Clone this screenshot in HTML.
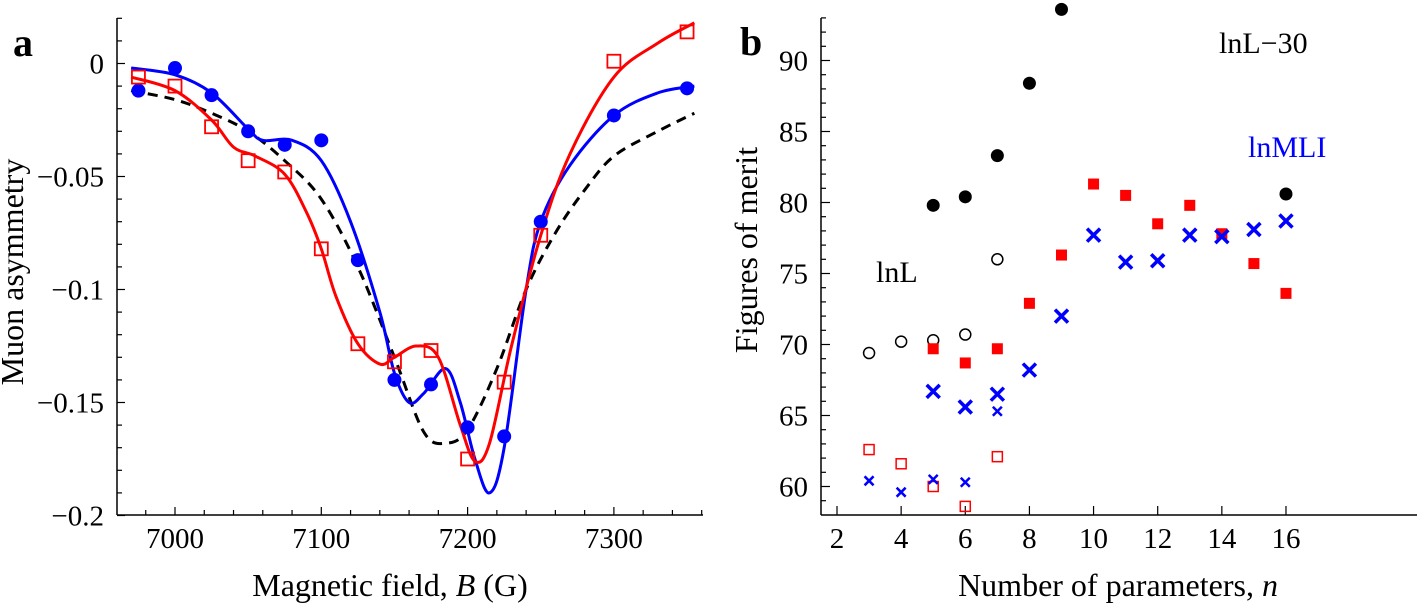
<!DOCTYPE html>
<html><head><meta charset="utf-8"><style>
html,body{margin:0;padding:0;background:#fff}
svg text{font-family:"Liberation Serif","Times New Roman","DejaVu Serif",serif;fill:#000}
</style></head><body>
<svg id="fig" width="1419" height="603" viewBox="0 0 1419 603" xmlns="http://www.w3.org/2000/svg" font-family="Liberation Serif, serif">
<g id="pa"></g>
<g id="pb"></g>
</svg>
<script>
// Panel a data
const aBlueX=[6975,7000,7025,7050,7075,7100,7125,7150,7175,7200,7225,7250,7300,7350];
const aBlueY=[-0.012,-0.002,-0.014,-0.030,-0.036,-0.034,-0.087,-0.140,-0.142,-0.161,-0.165,-0.070,-0.023,-0.011];
const aRedX=[6975,7000,7025,7050,7075,7100,7125,7150,7175,7200,7225,7250,7300,7350];
const aRedY=[-0.006,-0.010,-0.028,-0.043,-0.048,-0.082,-0.124,-0.132,-0.127,-0.175,-0.141,-0.076,0.001,0.014];
const blueCurveX=[6970,7000,7025,7050,7060,7080,7100,7120,7140,7150,7160,7170,7185,7195,7205,7215,7225,7240,7250,7270,7300,7330,7355];
const blueCurveY=[-0.002,-0.005,-0.013,-0.029,-0.034,-0.034,-0.043,-0.070,-0.110,-0.137,-0.150,-0.146,-0.135,-0.150,-0.175,-0.190,-0.170,-0.100,-0.070,-0.045,-0.023,-0.013,-0.010];
const redCurveX=[6970,7000,7025,7040,7055,7075,7090,7100,7110,7125,7140,7150,7165,7180,7195,7205,7215,7230,7250,7270,7300,7330,7355];
const redCurveY=[-0.006,-0.012,-0.025,-0.037,-0.041,-0.049,-0.066,-0.082,-0.103,-0.124,-0.133,-0.130,-0.125,-0.130,-0.160,-0.176,-0.168,-0.125,-0.076,-0.040,-0.006,0.009,0.018];
const dashCurveX=[6970,7000,7025,7050,7075,7100,7125,7150,7170,7185,7200,7220,7240,7260,7280,7300,7330,7355];
const dashCurveY=[-0.012,-0.016,-0.022,-0.030,-0.043,-0.060,-0.090,-0.130,-0.163,-0.168,-0.162,-0.135,-0.100,-0.075,-0.056,-0.041,-0.030,-0.022];
const aXTicks=[7000,7100,7200,7300];
const aYTicks=[0,-0.05,-0.1,-0.15,-0.2];
const aYLabels=["0","\u22120.05","\u22120.1","\u22120.15","\u22120.2"];
// Panel b data
const bX=[2,4,6,8,10,12,14,16];
const bYTicks=[60,65,70,75,80,85,90];
const blackFillN=[5,6,7,8,9,16];
const blackFillV=[79.8,80.4,83.3,88.4,93.6,80.6];
const blackOpenN=[3,4,5,6,7];
const blackOpenV=[69.4,70.2,70.3,70.7,76.0];
const redFillN=[5,6,7,8,9,10,11,12,13,14,15,16];
const redFillV=[69.7,68.7,69.7,72.9,76.3,81.3,80.5,78.5,79.8,77.8,75.7,73.6];
const redOpenN=[3,4,5,6,7];
const redOpenV=[62.6,61.6,60.0,58.6,62.1];
const blueBigN=[5,6,7,8,9,10,11,12,13,14,15,16];
const blueBigV=[66.7,65.6,66.5,68.2,72.0,77.7,75.8,75.9,77.7,77.6,78.1,78.7];
const blueSmallN=[3,4,5,6,7];
const blueSmallV=[60.4,59.6,60.5,60.3,65.3];

const NS="http://www.w3.org/2000/svg";
const FF='"Liberation Serif","Times New Roman","DejaVu Serif",serif';
function mk(p,tag,at){const e=document.createElementNS(NS,tag);for(const k in at)e.setAttribute(k,at[k]);if(tag==='text')e.style.fontFamily=FF;p.appendChild(e);return e;}
function smooth(pts){let d="M"+pts[0][0]+","+pts[0][1];for(let i=0;i<pts.length-1;i++){const p0=pts[Math.max(0,i-1)],p1=pts[i],p2=pts[i+1],p3=pts[Math.min(pts.length-1,i+2)];
const c1=[p1[0]+(p2[0]-p0[0])/6,p1[1]+(p2[1]-p0[1])/6],c2=[p2[0]-(p3[0]-p1[0])/6,p2[1]-(p3[1]-p1[1])/6];
d+=" C"+c1+" "+c2+" "+p2;}return d;}

// ---- Panel A ----
const pa=document.getElementById('pa');
const ax=v=>175+(v-7000)*1.463, ay=v=>63.5-v*2260;
const L=117,R=703,T=18,B=515;
let e;
e=mk(pa,'line',{x1:L,y1:T,x2:L,y2:B,stroke:'#000','stroke-width':1.5});

e=mk(pa,'line',{x1:L,y1:B,x2:R,y2:B,stroke:'#000','stroke-width':1.5});

for(let v=6980;v<=7360;v+=20){const x=ax(v);const maj=v%100===0;mk(pa,'line',{x1:x,y1:B,x2:x,y2:B-(maj?8:5),stroke:'#000','stroke-width':1.2});}
for(let k=-20;k<=2;k++){const y=ay(k/100);const maj=k%5===0;mk(pa,'line',{x1:L,y1:y,x2:L+(maj?8:5),y2:y,stroke:'#000','stroke-width':1.2});}
aXTicks.forEach(v=>{e=mk(pa,'text',{x:ax(v),y:548,'font-size':29,'text-anchor':'middle'});e.textContent=v;
});
aYTicks.forEach((v,i)=>{e=mk(pa,'text',{x:104,y:ay(v)+10,'font-size':29,'text-anchor':'end'});e.textContent=aYLabels[i];
});
e=mk(pa,'text',{x:390,y:596,'font-size':32,'text-anchor':'middle'});e.innerHTML='Magnetic field, <tspan font-style="italic">B</tspan> (G)';

e=mk(pa,'text',{x:0,y:0,'font-size':32,'text-anchor':'middle',transform:'translate(23,272) rotate(-90)'});e.textContent='Muon asymmetry';

e=mk(pa,'text',{x:13,y:56,'font-size':40,'font-weight':'bold'});e.textContent='a';

const clip=mk(mk(pa,'defs',{}),'clipPath',{id:'ca'});mk(clip,'rect',{x:L,y:T-5,width:R-L,height:B-T+5});
e=mk(pa,'path',{d:smooth(dashCurveX.map((v,i)=>[ax(v),ay(dashCurveY[i])])),fill:'none',stroke:'#000','stroke-width':3,'stroke-dasharray':'10,7','clip-path':'url(#ca)'});

e=mk(pa,'path',{d:smooth(blueCurveX.map((v,i)=>[ax(v),ay(blueCurveY[i])])),fill:'none',stroke:'#0000ff','stroke-width':3,'clip-path':'url(#ca)'});

e=mk(pa,'path',{d:smooth(redCurveX.map((v,i)=>[ax(v),ay(redCurveY[i])])),fill:'none',stroke:'#ff0000','stroke-width':3,'clip-path':'url(#ca)'});

aBlueX.forEach((v,i)=>{e=mk(pa,'circle',{cx:ax(v),cy:ay(aBlueY[i]),r:7,fill:'#0000ff'});
});
aRedX.forEach((v,i)=>{e=mk(pa,'rect',{x:ax(v)-6.5,y:ay(aRedY[i])-6.5,width:13,height:13,fill:'none',stroke:'#ff0000','stroke-width':1.8});
});

// ---- Panel B ----
const pb=document.getElementById('pb');
const bx=n=>837+(n-2)*32.07, by=v=>486.5-(v-60)*14.2;
const L2=821,R2=1417;
e=mk(pb,'line',{x1:L2,y1:T,x2:L2,y2:B,stroke:'#000','stroke-width':1.5});

e=mk(pb,'line',{x1:L2,y1:B,x2:R2,y2:B,stroke:'#000','stroke-width':1.5});

bX.forEach(n=>{mk(pb,'line',{x1:bx(n),y1:B,x2:bx(n),y2:B-9,stroke:'#000','stroke-width':1.2});
e=mk(pb,'text',{x:bx(n),y:548,'font-size':29,'text-anchor':'middle'});e.textContent=n;
});
for(let v=59;v<=93;v++){const maj=v%5===0;mk(pb,'line',{x1:L2,y1:by(v),x2:L2+(maj?9:5),y2:by(v),stroke:'#000','stroke-width':1.2});}
bYTicks.forEach(v=>{e=mk(pb,'text',{x:808,y:by(v)+10,'font-size':29,'text-anchor':'end'});e.textContent=v;
});
e=mk(pb,'text',{x:1118,y:596,'font-size':32,'text-anchor':'middle'});e.innerHTML='Number of parameters, <tspan font-style="italic">n</tspan>';

e=mk(pb,'text',{x:0,y:0,'font-size':32,'text-anchor':'middle',transform:'translate(757,250) rotate(-90)'});e.textContent='Figures of merit';

e=mk(pb,'text',{x:740,y:55,'font-size':40,'font-weight':'bold'});e.textContent='b';

e=mk(pb,'text',{x:1219,y:53,'font-size':30});e.textContent='lnL\u221230';

e=mk(pb,'text',{x:1248,y:157,'font-size':30,fill:'#0000ff',style:'fill:#0000ff'});e.textContent='lnMLI';

e=mk(pb,'text',{x:876,y:282,'font-size':30});e.textContent='lnL';

blackFillN.forEach((n,i)=>{e=mk(pb,'circle',{cx:bx(n),cy:by(blackFillV[i]),r:6.5,fill:'#000'});
});
blackOpenN.forEach((n,i)=>{e=mk(pb,'circle',{cx:bx(n),cy:by(blackOpenV[i]),r:5.5,fill:'none',stroke:'#000','stroke-width':1.5});
});
redFillN.forEach((n,i)=>{e=mk(pb,'rect',{x:bx(n)-5.5,y:by(redFillV[i])-5.5,width:11,height:11,fill:'#ff0000'});
});
redOpenN.forEach((n,i)=>{e=mk(pb,'rect',{x:bx(n)-5,y:by(redOpenV[i])-5,width:10,height:10,fill:'none',stroke:'#ff0000','stroke-width':1.5});
});
function cross(n,v,s,w,name){const x=bx(n),y=by(v);e=mk(pb,'path',{d:`M${x-s},${y-s}L${x+s},${y+s}M${x-s},${y+s}L${x+s},${y-s}`,stroke:'#0000ff','stroke-width':w,fill:'none'});
}
blueBigN.forEach((n,i)=>cross(n,blueBigV[i],6.5,3.5,'lnMLI-point'));
blueSmallN.forEach((n,i)=>cross(n,blueSmallV[i],4.5,2.5,'blue-small-point'));
</script>
</body></html>
